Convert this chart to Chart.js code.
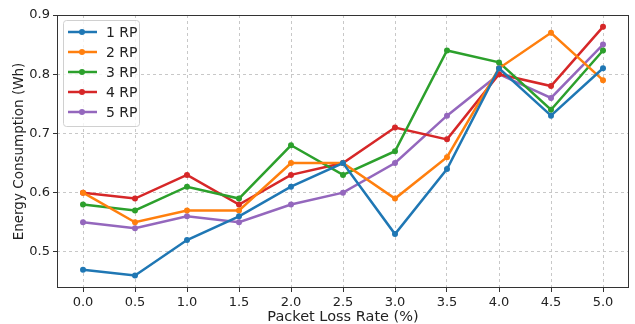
<!DOCTYPE html>
<html lang="en">
<head>
<meta charset="UTF-8">
<script src="https://cdn.jsdelivr.net/npm/chart.js"></script>
<style>
  body { margin: 0; background: #fff; }
  #wrap { width: 635px; height: 324px; }
</style>
</head>
<body>
<div id="wrap"><canvas id="myChart" width="635" height="324"></canvas></div>
<script>
// data
const lossRates = ['0.0', '0.5', '1.0', '1.5', '2.0', '2.5', '3.0', '3.5', '4.0', '4.5', '5.0'];
const rp1 = [0.47, 0.46, 0.52, 0.56, 0.61, 0.65, 0.53, 0.64, 0.81, 0.73, 0.81];
const rp2 = [0.60, 0.55, 0.57, 0.57, 0.65, 0.65, 0.59, 0.66, 0.81, 0.87, 0.79];
const rp3 = [0.58, 0.57, 0.61, 0.59, 0.68, 0.63, 0.67, 0.84, 0.82, 0.74, 0.84];
const rp4 = [0.60, 0.59, 0.63, 0.58, 0.63, 0.65, 0.71, 0.69, 0.80, 0.78, 0.88];
const rp5 = [0.55, 0.54, 0.56, 0.55, 0.58, 0.60, 0.65, 0.73, 0.80, 0.76, 0.85];
const seriesNames = ['1 RP', '2 RP', '3 RP', '4 RP', '5 RP'];
const yTicks = [0.5, 0.6, 0.7, 0.8, 0.9];

const colors = ['#1f77b4', '#ff7f0e', '#2ca02c', '#d62728', '#9467bd'];
const FONT = 'DejaVu Sans';

function mkSet(label, data, color) {
    return {
        label: label,
        data: data,
        borderColor: color,
        backgroundColor: color,
        borderWidth: 2.5,
        pointRadius: 3,
        pointHoverRadius: 3,
        pointBorderWidth: 0,
        tension: 0
    };
}

// frame round the plot + legend box in the upper left corner
const frameAndLegend = {
    id: 'frameAndLegend',
    afterDraw(chart) {
        const ctx = chart.ctx;
        const a = chart.chartArea;
        ctx.save();
        ctx.strokeStyle = '#333';
        ctx.lineWidth = 1;
        ctx.strokeRect(a.left + 0.5, a.top + 0.5, a.right - a.left - 1, a.bottom - a.top - 1);

        // legend
        const x0 = a.left + 6, y0 = a.top + 5, w = 76, h = 106;
        ctx.fillStyle = 'rgba(255,255,255,0.8)';
        ctx.strokeStyle = '#d0d0d0';
        ctx.beginPath();
        ctx.roundRect(x0 + 0.5, y0 + 0.5, w, h, 3);
        ctx.fill();
        ctx.stroke();
        ctx.font = '14px "' + FONT + '"';
        ctx.textBaseline = 'middle';
        chart.data.datasets.forEach((ds, i) => {
            const y = y0 + 12 + i * 20;
            ctx.strokeStyle = ds.borderColor;
            ctx.lineWidth = 2.5;
            ctx.beginPath();
            ctx.moveTo(x0 + 5, y);
            ctx.lineTo(x0 + 34, y);
            ctx.stroke();
            ctx.fillStyle = ds.borderColor;
            ctx.beginPath();
            ctx.arc(x0 + 19, y, 3, 0, Math.PI * 2);
            ctx.fill();
            ctx.fillStyle = '#222';
            ctx.fillText(ds.label, x0 + 43, y + 1);
        });
        ctx.restore();
    }
};

const ctx = document.getElementById('myChart');
const configs = {
    type: 'line',
    data: {
        labels: lossRates,
        datasets: [
            mkSet(seriesNames[0], rp1, colors[0]),
            mkSet(seriesNames[1], rp2, colors[1]),
            mkSet(seriesNames[2], rp3, colors[2]),
            mkSet(seriesNames[3], rp4, colors[3]),
            mkSet(seriesNames[4], rp5, colors[4])
        ]
    },
    options: {
        responsive: false,
        animation: false,
        layout: { padding: { top: 15, right: 6, left: 0, bottom: 0 } },
        plugins: { legend: { display: false }, tooltip: { enabled: false } },
        scales: {
            x: {
                type: 'category',
                offset: true,
                grid: {
                    color: '#c8c8c8',
                    tickLength: 4,
                    tickColor: '#333',
                    tickBorderDash: [],
                    offset: false
                },
                border: { display: false, dash: [3, 3] },
                ticks: { color: '#222', font: { family: FONT, size: 13 }, padding: 3, maxRotation: 0 },
                title: { display: true, text: 'Packet Loss Rate (%)', color: '#222', font: { family: FONT, size: 14.5 }, padding: { top: 0, bottom: -2 } },
                afterFit(scale) { scale.height = 36; }
            },
            y: {
                min: 0.439,
                max: 0.9,
                afterBuildTicks(scale) { scale.ticks = yTicks.map(v => ({ value: v })); },
                grid: {
                    color: '#c8c8c8',
                    tickLength: 4,
                    tickColor: '#333',
                    tickBorderDash: []
                },
                border: { display: false, dash: [3, 3] },
                ticks: {
                    color: '#222',
                    font: { family: FONT, size: 13 },
                    padding: 3,
                    callback: v => Number(v).toFixed(1)
                },
                title: { display: true, text: 'Energy Consumption (Wh)', color: '#222', font: { family: FONT, size: 13.5 }, padding: { top: 11, bottom: 0 } },
                afterFit(scale) { scale.width = 57; }
            }
        }
    },
    plugins: [frameAndLegend]
};
const myChart = new Chart(ctx, configs);
</script>
</body>
</html>
